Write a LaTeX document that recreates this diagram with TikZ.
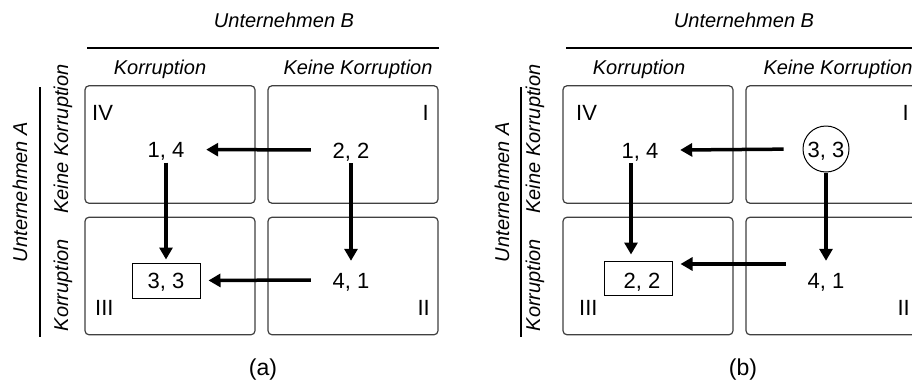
\documentclass[tikz,border=0pt]{standalone}
\usepackage{fontspec}
\setmainfont{Liberation Sans}
\usetikzlibrary{arrows.meta}
\begin{document}
\begin{tikzpicture}[x=1pt,y=-1pt,
  lbl/.style={font=\fontsize{20}{24}\selectfont\itshape, inner sep=0pt},
  numtxt/.style={font=\fontsize{22}{26}\selectfont, inner sep=0pt, text height=16pt, text depth=0pt},
  num/.style={numtxt, minimum width=80pt, minimum height=26pt},
  rom/.style={font=\fontsize{22}{26}\selectfont, inner sep=0pt, text height=16pt, text depth=0pt},
  cell/.style={draw=black!75, line width=1.2pt, rounded corners=4pt, minimum width=170pt, minimum height=117.5pt, inner sep=0pt},
  boxed/.style={numtxt, draw=black, line width=1pt},
  head/.style={line width=2pt},
  arr/.style={line width=3.5pt, -{Triangle[length=12pt,width=13pt]}},
  captxt/.style={font=\fontsize{23}{27}\selectfont, inner sep=0pt}
]
\clip (0,0) rectangle (912,383);
\fill[white] (0,0) rectangle (912,383);

% ---------------- panel (a)
\node[lbl, anchor=base] (aB) at (284,27) {Unternehmen B};
\draw[head] (87,48) -- (439,48);
\node[lbl, anchor=base] (aK) at (160,74) {Korruption};
\node[lbl, anchor=base] (aKK) at (358,74) {Keine Korruption};
\draw[head] (40,87) -- (40,337);
\node[lbl, rotate=90] (aA) at (20,192) {Unternehmen A};
\node[lbl, rotate=90] (aRKK) at (63,139) {Keine Korruption};
\node[lbl, rotate=90] (aRK) at (63,285) {Korruption};

\node[cell] (aIV) at (170,144.5) {};
\node[cell] (aI) at (353,144.5) {};
\node[cell] (aIII) at (170,276) {};
\node[cell] (aII) at (353,276) {};

\node[rom, anchor=west] (aIVt) at (92,112) {IV};
\node[rom, anchor=east] (aIt) at (429,112) {I};
\node[rom, anchor=west] (aIIIt) at (95,307) {III};
\node[rom, anchor=east] (aIIt) at (430,307) {II};

\node[num] (a14) at (166,149.5) {1, 4};
\node[num] (a22) at (351,150) {2, 2};
\node[boxed, minimum width=68pt, minimum height=35pt] (a33) at (166,280.5) {3, 3};
\node[num] (a41) at (351,280) {4, 1};

\draw[arr] (a22) -- (a14);
\draw[arr, shorten >=3pt] (a14.south) -- (a33.north);
\draw[arr, shorten >=6pt] (a22.south) -- (a41.north);
\draw[arr, shorten >=8pt] (a41.west) -- (a33.east);

\node[captxt, anchor=base] (acap) at (263,375) {(a)};

% ---------------- panel (b)
\node[lbl, anchor=base] (bB) at (744,27) {Unternehmen B};
\draw[head] (566,48) -- (916,48);
\node[lbl, anchor=base] (bK) at (639,74) {Korruption};
\node[lbl, anchor=base] (bKK) at (838,74) {Keine Korruption};
\draw[head] (521,87) -- (521,337);
\node[lbl, rotate=90] (bA) at (502,192) {Unternehmen A};
\node[lbl, rotate=90] (bRKK) at (535,139) {Keine Korruption};
\node[lbl, rotate=90] (bRK) at (535,285) {Korruption};

\node[cell] (bIV) at (648,144.5) {};
\node[cell] (bI) at (831,144.5) {};
\node[cell] (bIII) at (648,276) {};
\node[cell] (bII) at (831,276) {};

\node[rom, anchor=west] (bIVt) at (576,112) {IV};
\node[rom, anchor=east] (bIt) at (909,112) {I};
\node[rom, anchor=west] (bIIIt) at (579,307) {III};
\node[rom, anchor=east] (bIIt) at (910,307) {II};

\node[num] (b14) at (640,150) {1, 4};
\node[numtxt, draw=black, line width=1pt, circle, minimum size=46pt] (b33) at (826,149) {3, 3};
\node[boxed, minimum width=68pt, minimum height=34pt, text height=20pt] (b22) at (638,278) {\hspace*{8pt}2, 2};
\node[num] (b41) at (826,280) {4, 1};

\draw[arr, shorten <=19pt] (b33.west) -- (b14.east);
\draw[arr, shorten >=6pt] ([xshift=-9pt]b14.south) -- ([xshift=-7pt]b22.north);
\draw[arr, shorten >=6pt] (b33.south) -- (b41.north);
\draw[arr, shorten >=8pt] ([yshift=16pt]b41.west) -- ([yshift=14pt]b22.east);

\node[captxt, anchor=base] (bcap) at (743,375) {(b)};
\end{tikzpicture}
\end{document}
